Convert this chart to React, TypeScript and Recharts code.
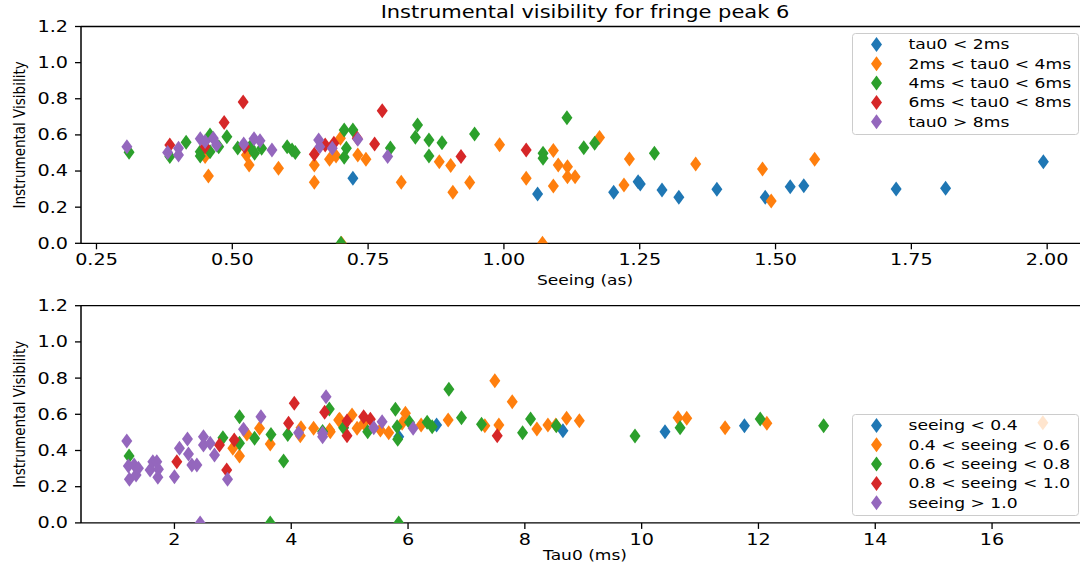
import React from 'react'
import { ScatterChart, Scatter, XAxis, YAxis, ReferenceLine } from 'recharts'

// matplotlib tab10
const COLORS = ['#1f77b4', '#ff7f0e', '#2ca02c', '#d62728', '#9467bd']
const FONT = "'DejaVu Sans', sans-serif"
const SX = 1.2 // the source image is stretched horizontally

// ---- top panel: visibility vs seeing, split by tau0 ----
const topNames = ['tau0 < 2ms', '2ms < tau0 < 4ms', '4ms < tau0 < 6ms', '6ms < tau0 < 8ms', 'tau0 > 8ms']

const tauLt2Seeing = [0.722, 1.062, 1.202, 1.247, 1.251, 1.291, 1.322, 1.392, 1.481, 1.527, 1.552, 1.722, 1.813, 1.993]
const tauLt2Vis = [0.36, 0.273, 0.282, 0.341, 0.328, 0.295, 0.255, 0.299, 0.255, 0.313, 0.319, 0.301, 0.305, 0.452]

const tau2to4Seeing = [0.45, 0.456, 0.526, 0.531, 0.585, 0.651, 0.651, 0.679, 0.691, 0.699, 0.701, 0.731, 0.746, 0.811, 0.881, 0.902, 0.906, 0.937, 0.992, 1.041, 1.071, 1.091, 1.091, 1.1, 1.117, 1.117, 1.131, 1.176, 1.221, 1.231, 1.353, 1.476, 1.492, 1.572]
const tau2to4Vis = [0.48, 0.373, 0.489, 0.434, 0.415, 0.434, 0.338, 0.465, 0.483, 0.581, 0.0, 0.489, 0.465, 0.338, 0.452, 0.43, 0.282, 0.336, 0.546, 0.36, 0.0, 0.513, 0.317, 0.434, 0.424, 0.369, 0.369, 0.585, 0.323, 0.467, 0.439, 0.411, 0.234, 0.465]

const tau4to6Seeing = [0.31, 0.385, 0.415, 0.441, 0.441, 0.459, 0.459, 0.475, 0.49, 0.51, 0.533, 0.541, 0.554, 0.601, 0.61, 0.616, 0.7, 0.706, 0.71, 0.706, 0.722, 0.791, 0.841, 0.837, 0.862, 0.862, 0.886, 0.946, 1.072, 1.072, 1.116, 1.147, 1.167, 1.277]
const tau4to6Vis = [0.504, 0.48, 0.559, 0.507, 0.483, 0.6, 0.507, 0.535, 0.59, 0.528, 0.535, 0.498, 0.526, 0.535, 0.517, 0.502, 0.0, 0.627, 0.526, 0.476, 0.627, 0.528, 0.655, 0.587, 0.572, 0.483, 0.557, 0.605, 0.498, 0.471, 0.695, 0.529, 0.554, 0.498]

const tau6to8Seeing = [0.385, 0.45, 0.485, 0.52, 0.523, 0.651, 0.671, 0.687, 0.73, 0.762, 0.776, 0.921, 1.041]
const tau6to8Vis = [0.544, 0.535, 0.668, 0.782, 0.535, 0.493, 0.544, 0.554, 0.581, 0.55, 0.734, 0.48, 0.517]

const tauGt8Seeing = [0.306, 0.381, 0.401, 0.401, 0.441, 0.45, 0.465, 0.471, 0.521, 0.54, 0.551, 0.573, 0.659, 0.661, 0.684, 0.731, 0.786]
const tauGt8Vis = [0.535, 0.502, 0.526, 0.489, 0.578, 0.563, 0.581, 0.544, 0.55, 0.578, 0.568, 0.517, 0.572, 0.535, 0.526, 0.576, 0.48]

// ---- bottom panel: visibility vs tau0, split by seeing ----
const bottomNames = ['seeing < 0.4', '0.4 < seeing < 0.6', '0.6 < seeing < 0.8', '0.8 < seeing < 1.0', 'seeing > 1.0']

const seeLt04Tau = [5.841, 6.489, 8.652, 10.4, 11.76]
const seeLt04Vis = [0.476, 0.541, 0.509, 0.504, 0.537]

const see04to06Tau = [3.0, 3.114, 3.241, 3.457, 3.64, 4.155, 4.167, 4.383, 4.657, 4.669, 4.812, 4.829, 5.041, 5.127, 5.24, 5.527, 5.669, 5.898, 5.955, 6.224, 6.687, 7.315, 7.486, 7.555, 7.784, 8.206, 8.395, 8.53, 8.715, 8.933, 10.623, 10.772, 11.429, 12.144, 16.87]
const see04to06Vis = [0.412, 0.37, 0.491, 0.523, 0.436, 0.481, 0.526, 0.523, 0.513, 0.504, 0.569, 0.572, 0.596, 0.523, 0.55, 0.513, 0.498, 0.55, 0.606, 0.541, 0.569, 0.537, 0.786, 0.541, 0.67, 0.519, 0.541, 0.541, 0.578, 0.565, 0.581, 0.578, 0.526, 0.55, 0.554]

const see06to08Tau = [1.223, 2.83, 3.114, 3.114, 3.372, 3.64, 3.653, 3.869, 3.94, 4.537, 4.652, 4.897, 5.309, 5.784, 5.813, 5.823, 5.84, 6.025, 6.327, 6.413, 6.699, 6.915, 7.258, 7.961, 8.098, 8.539, 9.886, 10.658, 12.03, 13.116]
const see06to08Vis = [0.37, 0.471, 0.587, 0.44, 0.467, 0.0, 0.489, 0.342, 0.489, 0.505, 0.629, 0.526, 0.504, 0.628, 0.531, 0.462, 0.0, 0.556, 0.556, 0.531, 0.738, 0.581, 0.545, 0.498, 0.574, 0.537, 0.48, 0.526, 0.574, 0.537]

const see08to10Tau = [2.041, 2.771, 2.895, 3.024, 3.954, 4.052, 4.572, 4.955, 4.955, 5.24, 5.355, 7.527]
const see08to10Vis = [0.338, 0.43, 0.292, 0.458, 0.55, 0.661, 0.611, 0.563, 0.482, 0.587, 0.572, 0.482]

const seeGt10Tau = [1.184, 1.211, 1.229, 1.31, 1.343, 1.383, 1.583, 1.63, 1.698, 1.716, 1.726, 2.0, 2.086, 2.223, 2.24, 2.298, 2.384, 2.44, 2.497, 2.497, 2.612, 2.686, 2.909, 3.183, 3.481, 4.126, 4.537, 4.537, 4.596, 5.413, 5.556, 6.087]
const seeGt10Vis = [0.452, 0.314, 0.241, 0.32, 0.264, 0.302, 0.292, 0.338, 0.338, 0.252, 0.296, 0.255, 0.412, 0.464, 0.381, 0.32, 0.32, 0.0, 0.476, 0.43, 0.44, 0.375, 0.241, 0.517, 0.587, 0.498, 0.495, 0.476, 0.697, 0.526, 0.559, 0.523]

const visTicks = [0, 0.2, 0.4, 0.6, 0.8, 1.0, 1.2]
const seeingTicks = [0.25, 0.5, 0.75, 1.0, 1.25, 1.5, 1.75, 2.0]
const tauTicks = [2, 4, 6, 8, 10, 12, 14, 16]

const zip = (xs: number[], ys: number[]) => xs.map((x, i) => ({ x, y: ys[i] }))

const topData = [
  zip(tauLt2Seeing, tauLt2Vis),
  zip(tau2to4Seeing, tau2to4Vis),
  zip(tau4to6Seeing, tau4to6Vis),
  zip(tau6to8Seeing, tau6to8Vis),
  zip(tauGt8Seeing, tauGt8Vis),
]
const bottomData = [
  zip(seeLt04Tau, seeLt04Vis),
  zip(see04to06Tau, see04to06Vis),
  zip(see06to08Tau, see06to08Vis),
  zip(see08to10Tau, see08to10Vis),
  zip(seeGt10Tau, seeGt10Vis),
]

function STxt({ x, y, size, anchor = 'middle', rotate = false, children }: any) {
  return (
    <text
      transform={`translate(${x},${y}) scale(${SX},1)${rotate ? ' rotate(-90)' : ''}`}
      textAnchor={anchor}
      dominantBaseline="central"
      fontSize={size}
      fontFamily={FONT}
      fill="#000"
    >
      {children}
    </text>
  )
}

function diamondPath(cx: number, cy: number) {
  return `M${cx},${cy - 7.5}L${cx + 5.5},${cy}L${cx},${cy + 7.5}L${cx - 5.5},${cy}Z`
}

const Diamond = (props: any) => {
  const { cx, cy, fill } = props
  if (cx == null || cy == null) return <g />
  return <path d={diamondPath(cx, cy)} fill={fill} />
}

function LegendBox({ names, left, top }: { names: string[]; left: number; top: number }) {
  return (
    <div style={{ position: 'absolute', left, top, width: 227, height: 102 }}>
      <svg width={227} height={102}>
        <rect x={0.5} y={0.5} width={226} height={101} rx={3} fill="#fff" fillOpacity={0.8} stroke="#cccccc" />
        {names.map((n, i) => {
          const cy = 11.5 + i * 19.3
          return (
            <g key={n}>
              <path d={diamondPath(24.5, cy)} fill={COLORS[i]} />
              <STxt x={56.5} y={cy} size={14.3} anchor="start">{n}</STxt>
            </g>
          )
        })}
      </svg>
    </div>
  )
}

interface PanelProps {
  top: number
  height: number
  plotTop: number
  plotBottom: number
  labelGap: number
  series: { x: number; y: number }[][]
  xDomain: [number, number]
  xTicks: number[]
  xFmt: (v: number) => string
  xLabel: string
  title?: string
}

function Panel({ top, height, plotTop, plotBottom, labelGap, series, xDomain, xTicks, xFmt, xLabel, title }: PanelProps) {
  const axisH = height - plotBottom
  const midY = (plotTop + plotBottom) / 2
  return (
    <div style={{ position: 'absolute', left: 0, top }}>
      <ScatterChart width={1100} height={height} margin={{ top: plotTop, right: 11, bottom: 0, left: 0 }}>
        <XAxis
          type="number"
          dataKey="x"
          domain={xDomain}
          ticks={xTicks}
          allowDataOverflow
          height={axisH}
          axisLine={{ stroke: '#000', strokeWidth: 1.3 }}
          tickLine={{ stroke: '#000', strokeWidth: 1.3 }}
          tickSize={6}
          tick={(p: any) => <STxt x={p.x} y={p.y + 8.7} size={16}>{xFmt(p.payload.value)}</STxt>}
          label={{ content: () => <STxt x={585} y={plotBottom + labelGap} size={14.2}>{xLabel}</STxt> }}
        />
        <YAxis
          type="number"
          dataKey="y"
          domain={[0, 1.2]}
          ticks={visTicks}
          allowDataOverflow
          width={81}
          axisLine={{ stroke: '#000', strokeWidth: 1.5 }}
          tickLine={{ stroke: '#000', strokeWidth: 1.3 }}
          tickSize={6}
          tick={(p: any) => <STxt x={p.x - 5} y={p.y} size={16} anchor="end">{p.payload.value.toFixed(1)}</STxt>}
          label={{ content: () => <STxt x={20} y={midY} size={13.5} rotate>Instrumental Visibility</STxt> }}
        />
        <ReferenceLine
          y={1.2}
          stroke="#000"
          strokeWidth={1.3}
          label={title ? { content: () => <STxt x={585} y={12} size={17.5}>{title}</STxt> } : undefined}
        />
        {series.map((d, i) => (
          <Scatter key={i} data={d} fill={COLORS[i]} shape={Diamond} isAnimationActive={false} />
        ))}
      </ScatterChart>
    </div>
  )
}

export default function App() {
  return (
    <div style={{ position: 'absolute', left: 0, top: 0, width: 1080, height: 567, overflow: 'hidden', background: '#fff' }}>
      <Panel
        top={0}
        height={300}
        plotTop={26.5}
        plotBottom={243.3}
        labelGap={36.7}
        series={topData}
        xDomain={[0.2215, 2.077]}
        xTicks={seeingTicks}
        xFmt={(v) => v.toFixed(2)}
        xLabel="Seeing (as)"
        title="Instrumental visibility for fringe peak 6"
      />
      <Panel
        top={290}
        height={277}
        plotTop={15.7}
        plotBottom={232.9}
        labelGap={32}
        series={bottomData}
        xDomain={[0.4, 17.66]}
        xTicks={tauTicks}
        xFmt={(v) => String(v)}
        xLabel="Tau0 (ms)"
      />
      <LegendBox names={topNames} left={852} top={33} />
      <LegendBox names={bottomNames} left={852} top={414} />
    </div>
  )
}
